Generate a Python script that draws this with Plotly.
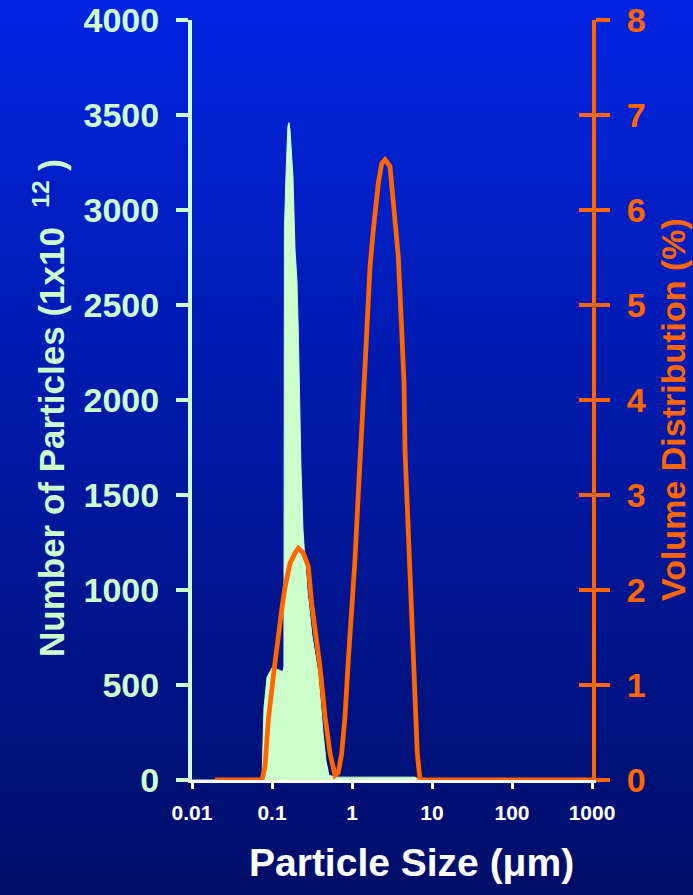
import plotly.graph_objects as go

# ---- data ----
size_number = [0.01, 0.0708, 0.075, 0.0772, 0.0794, 0.0866, 0.100, 0.112, 0.126, 0.137, 0.141,
               0.143, 0.150, 0.158, 0.163, 0.168, 0.175, 0.183, 0.194, 0.205, 0.213, 0.224,
               0.230, 0.244, 0.274, 0.316, 0.376, 0.434, 0.473, 0.516, 0.613, 6.13, 7.08]
number_particles = [0, 0, 0, 200, 380, 540, 590, 585, 575, 570, 600,
                    2900, 3200, 3440, 3460, 3420, 3300, 3170, 2790, 2630, 2370, 1880,
                    1650, 1316, 1000, 760, 560, 250, 100, 25, 15, 15, 0]

size_volume = [0.0194, 0.075, 0.0818, 0.0899, 0.1038, 0.120, 0.132, 0.1454, 0.168, 0.194, 0.213,
               0.246, 0.284, 0.313, 0.362, 0.398, 0.460, 0.531, 0.613, 0.644, 0.675, 0.743,
               0.818, 0.899, 0.991, 1.090, 1.199, 1.322, 1.454, 1.599, 1.679, 1.846, 2.133,
               2.35, 2.587, 2.985, 3.135, 3.447, 3.79, 4.18, 4.47, 4.60, 5.06, 5.57, 6.13,
               6.55, 7.08, 1000]
volume_pct = [0, 0, 0.14, 0.63, 1.09, 1.58, 1.79, 2.03, 2.28, 2.39, 2.44,
              2.39, 2.25, 1.86, 1.44, 1.19, 0.67, 0.28, 0.05, 0.07, 0.08, 0.28,
              0.67, 1.26, 1.72, 2.32, 3.02, 3.82, 4.35, 5.05, 5.40, 5.79, 6.28,
              6.49, 6.53, 6.46, 6.28, 5.93, 5.51, 4.74, 4.18, 3.47, 2.67, 1.79, 0.92,
              0.28, 0, 0]

x_tickvals = [0.01, 0.1, 1, 10, 100, 1000]
x_ticktext = ["0.01", "0.1", "1", "10", "100", "1000"]
left_ticks = [0, 500, 1000, 1500, 2000, 2500, 3000, 3500, 4000]
right_ticks = [0, 1, 2, 3, 4, 5, 6, 7, 8]

GREEN = "#CCFFCC"
ORANGE = "#FF6600"
FONT = "Liberation Sans, Arial, sans-serif"

W, H = 693, 895
ML, MR, MT, MB = 192, 101, 20, 115
PW, PH = W - ML - MR, H - MT - MB

fig = go.Figure()
fig.add_trace(go.Scatter(x=size_number, y=number_particles, mode="lines",
                         line=dict(color=GREEN, width=1), fill="tozeroy",
                         fillcolor=GREEN, showlegend=False, yaxis="y"))
fig.add_trace(go.Scatter(x=size_volume, y=volume_pct, mode="lines",
                         line=dict(color=ORANGE, width=4.8), showlegend=False,
                         yaxis="y2"))
fig.add_trace(go.Scatter(x=[1], y=[0], mode="lines", line=dict(width=0),
                         showlegend=False, hoverinfo="skip", yaxis="y3"))

# background gradient (paper coordinates spanning whole page)
top = (2, 36, 224)
bot = (0, 14, 104)
n = 150
shapes = []
y0p = -MB / PH
y1p = 1 + MT / PH
for i in range(n):
    t = i / (n - 1)
    c = tuple(round(top[k] + (bot[k] - top[k]) * t) for k in range(3))
    ya = y1p - (y1p - y0p) * i / n
    yb = y1p - (y1p - y0p) * (i + 1) / n
    shapes.append(dict(type="rect", xref="paper", yref="paper",
                       x0=-ML / PW - 0.01, x1=1 + MR / PW + 0.01,
                       y0=yb - 0.002, y1=ya + 0.002,
                       fillcolor="rgb(%d,%d,%d)" % c, line=dict(width=0),
                       layer="below"))

fig.update_layout(
    width=W, height=H,
    margin=dict(l=ML, r=MR, t=MT, b=MB, autoexpand=False),
    paper_bgcolor="#0018A0",
    plot_bgcolor="rgba(0,0,0,0)",
    shapes=shapes,
    xaxis=dict(type="log", range=[-2, 3], tickvals=x_tickvals, ticktext=x_ticktext,
               showgrid=False, zeroline=False, showline=True, linecolor="white",
               linewidth=3, ticks="outside", ticklen=6, tickwidth=3, tickcolor="white",
               tickfont=dict(family=FONT, size=21, color="white", weight="bold"),
               ticklabelstandoff=6, automargin=False),
    yaxis=dict(range=[0, 4000], tickvals=left_ticks, showgrid=False, zeroline=False,
               showline=True, linecolor=GREEN, linewidth=4, ticks="outside",
               ticklen=12, tickwidth=4, tickcolor=GREEN,
               tickfont=dict(family=FONT, size=34, color=GREEN, weight="bold"),
               ticklabelstandoff=10, automargin=False),
    yaxis2=dict(range=[0, 8], tickvals=right_ticks, overlaying="y", side="right",
                anchor="x", showgrid=False, zeroline=False, showline=True,
                linecolor=ORANGE, linewidth=4, ticks="outside", ticklen=14,
                tickwidth=4, tickcolor=ORANGE,
                tickfont=dict(family=FONT, size=34, color=ORANGE, weight="bold"),
                ticklabelstandoff=10, automargin=False),
    yaxis3=dict(range=[0, 8], tickvals=right_ticks, overlaying="y", side="right",
                anchor="x", showgrid=False, zeroline=False, showline=False,
                ticks="inside", ticklen=13, tickwidth=4, tickcolor=ORANGE,
                showticklabels=False, automargin=False),
    annotations=[
        dict(text="Number of Particles (1x10&nbsp; <sup>12</sup>&nbsp;)", xref="paper", yref="paper",
             x=(49 - ML) / PW, y=(H - MB - 408) / PH, textangle=-90,
             xanchor="center", yanchor="middle", showarrow=False,
             font=dict(family=FONT, size=35, color=GREEN, weight="bold")),
        dict(text="Volume Distribution (%)", xref="paper", yref="paper",
             x=(673 - ML) / PW, y=(H - MB - 410) / PH, textangle=-90,
             xanchor="center", yanchor="middle", showarrow=False,
             font=dict(family=FONT, size=34, color=ORANGE, weight="bold")),
        dict(text="Particle Size (μm)", xref="paper", yref="paper",
             x=(411 - ML) / PW, y=(H - MB - 862) / PH,
             xanchor="center", yanchor="middle", showarrow=False,
             font=dict(family=FONT, size=39, color="white", weight="bold")),
    ],
)

fig.write_html("out.html")
